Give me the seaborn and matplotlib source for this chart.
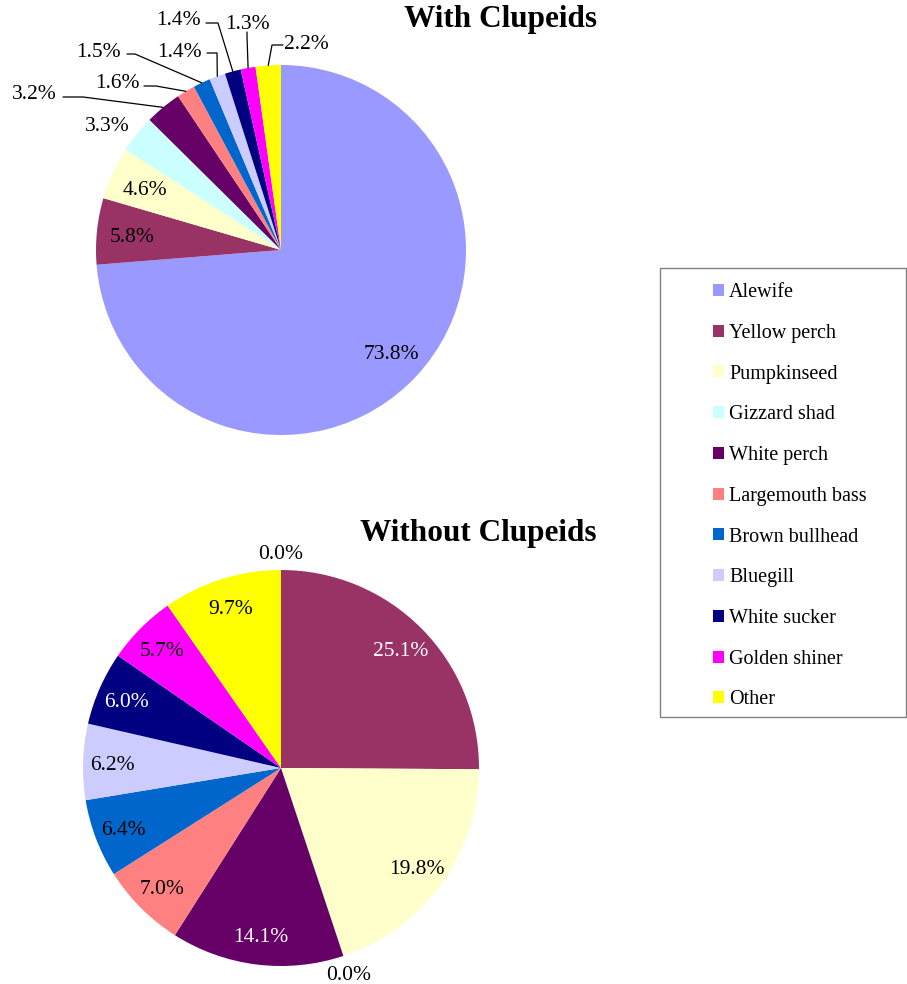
import numpy as np
import matplotlib
matplotlib.use("Agg")
import matplotlib.pyplot as plt
from matplotlib.patches import Patch, Rectangle
import seaborn as sns

species = ["Alewife", "Yellow perch", "Pumpkinseed", "Gizzard shad", "White perch",
           "Largemouth bass", "Brown bullhead", "Bluegill", "White sucker",
           "Golden shiner", "Other"]
with_pct = [73.8, 5.8, 4.6, 3.3, 3.2, 1.6, 1.5, 1.4, 1.4, 1.3, 2.2]
without_pct = [0.0, 25.1, 19.8, 0.0, 14.1, 7.0, 6.4, 6.2, 6.0, 5.7, 9.7]
colors = ["#9999FF", "#993366", "#FFFFCC", "#CCFFFF", "#660066", "#FF8080",
          "#0066CC", "#CCCCFF", "#000080", "#FF00FF", "#FFFF00"]

sns.set_style("white")
plt.rcParams["font.family"] = ["Liberation Serif", "DejaVu Serif"]
plt.rcParams["text.color"] = "black"

W, H = 907, 984
fig = plt.figure(figsize=(W / 100, H / 100), dpi=100)
ax = fig.add_axes([0, 0, 1, 1])


def Y(y):
    # pixel row (top down) -> data y
    return H - y


pal = sns.color_palette(colors)
FS = 15.5

# top pie
c1, r1 = (281, Y(250)), 185
w1, _ = ax.pie(with_pct, colors=pal, startangle=90, counterclock=False,
               center=c1, radius=r1, frame=True, wedgeprops=dict(linewidth=0))

# outside labels of the top pie (text centre, leader start, leader knee) in pixels
top_out = {
    3: ((107, 124), None, None),
    4: ((34, 92), (63, 97), (83, 97)),
    5: ((117, 81), (144, 86), (156, 86)),
    6: ((98, 50), (127, 54), (135, 54)),
    7: ((179, 50), (207, 53), (217, 53)),
    8: ((178, 18), (206, 23), (218, 23)),
    9: ((247, 22), (247, 32), (247, 36)),
    10: ((306, 42), (283, 45), (272, 45)),
}

for i, w in enumerate(w1):
    mid = np.deg2rad((w.theta1 + w.theta2) / 2)
    txt = f"{with_pct[i]:.1f}%"
    if i in top_out:
        (tx, ty), start, knee = top_out[i]
        ax.text(tx, Y(ty), txt, ha="center", va="center_baseline", fontsize=FS)
        if start is not None:
            ex = c1[0] + r1 * np.cos(mid)
            ey = c1[1] + r1 * np.sin(mid)
            ax.plot([start[0], knee[0], ex], [Y(start[1]), Y(knee[1]), ey],
                    color="black", lw=0.9)
    else:
        d = 0.81 * r1
        ax.text(c1[0] + d * np.cos(mid), c1[1] + d * np.sin(mid), txt,
                ha="center", va="center_baseline", fontsize=FS)

# bottom pie
c2, r2 = (281, Y(768)), 198
w2, _ = ax.pie(without_pct, colors=pal, startangle=90, counterclock=False,
               center=c2, radius=r2, frame=True, wedgeprops=dict(linewidth=0))
white_txt = {1, 4, 8}
for i, w in enumerate(w2):
    mid = np.deg2rad((w.theta1 + w.theta2) / 2)
    txt = f"{without_pct[i]:.1f}%"
    if without_pct[i] == 0:
        d = 1.09 * r2
        col = "black"
    else:
        d = 0.85 * r2
        col = "white" if i in white_txt else "black"
    ax.text(c2[0] + d * np.cos(mid), c2[1] + d * np.sin(mid), txt,
            ha="center", va="center_baseline", fontsize=FS, color=col)

# titles
ax.text(501, Y(20), "With Clupeids", ha="center", va="center",
        fontsize=22.5, fontweight="bold")
ax.text(478, Y(534), "Without Clupeids", ha="center", va="center",
        fontsize=22.5, fontweight="bold")

# legend
handles = [Patch(facecolor=c, edgecolor="none") for c in colors]
leg = ax.legend(handles, species, loc="upper left",
                bbox_to_anchor=(713 / W, 1 - 283 / H), frameon=False,
                fontsize=14.5, handlelength=0.55, handleheight=0.55,
                handletextpad=0.25, labelspacing=1.08, borderpad=0,
                borderaxespad=0)
for t in leg.get_texts():
    t.set_color("black")
ax.add_patch(Rectangle((660, Y(717)), 246, 449, facecolor="none",
                       edgecolor="#808080", lw=1))

ax.set_xlim(0, W)
ax.set_ylim(0, H)
ax.set_aspect("equal")
ax.axis("off")

fig.savefig("out.png", dpi=100)
